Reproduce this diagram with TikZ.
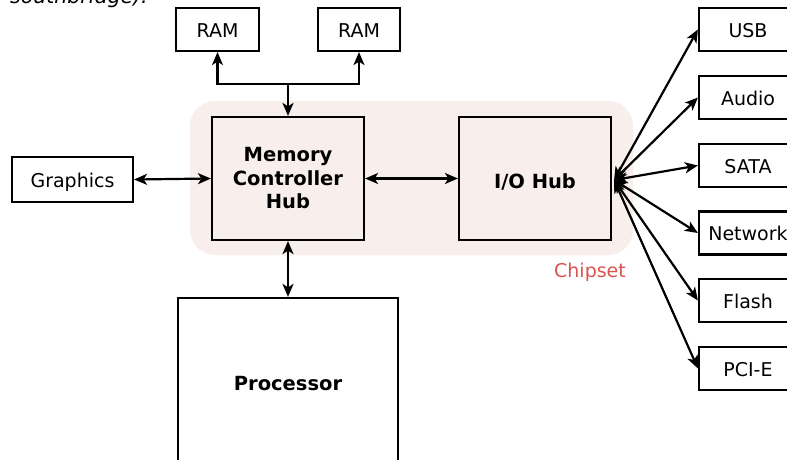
\documentclass[tikz,border=0pt]{standalone}
\usepackage{fontspec}
\setmainfont{DejaVu Sans}
\usetikzlibrary{arrows.meta}
\definecolor{chipfill}{HTML}{F8EEEC}
\definecolor{chipred}{HTML}{D9534F}
\tikzset{
  box/.style={draw=black, line width=2.2pt, rectangle, inner sep=0pt, font=\fontsize{19}{22}\selectfont},
  lbl/.style={text height=16pt, text depth=1pt},
  hubbox/.style={box, fill=chipfill, minimum width=152pt, minimum height=123pt, align=center, font=\fontsize{19.5}{23.5}\selectfont\bfseries},
  devbox/.style={box, lbl, minimum width=98pt, minimum height=43pt},
  conn/.style={line width=2.2pt, {Stealth[length=13pt,width=11pt,inset=3.5pt]}-{Stealth[length=13pt,width=11pt,inset=3.5pt]}},
  connto/.style={line width=2.2pt, -{Stealth[length=13pt,width=11pt,inset=3.5pt]}}
}
\begin{document}
\begin{tikzpicture}[x=1pt,y=-1pt]
\useasboundingbox (0,0) rectangle (787,459);
\clip (0,0) rectangle (787,459);

% cut-off caption text at top
\node[anchor=base west, inner sep=0pt, font=\fontsize{20.5}{24}\selectfont\itshape] (cap) at (10,3) {southbridge).};

% chipset background
\node[fill=chipfill, rounded corners=25pt, minimum width=443pt, minimum height=154pt, inner sep=0pt] (chipset) at (411.5,178) {};
\node[text=chipred, font=\fontsize{19}{22}\selectfont] (chiplabel) at (590,272) {Chipset};

% RAM
\node[box, lbl, minimum width=83pt, minimum height=43pt] (ram1) at (217.5,29.5) {RAM};
\node[box, lbl, minimum width=82pt, minimum height=43pt] (ram2) at (359,29.5) {RAM};

% hubs
\node[hubbox] (mch) at (288,178.5) {Memory\\Controller\\Hub};
\node[hubbox, text height=20pt, text depth=0.8pt] (ioh) at (535,178.5) {I/O Hub};

% graphics
\node[box, lbl, minimum width=121pt, minimum height=45pt] (gfx) at (72.5,179.5) {Graphics};

% processor
\node[box, minimum width=220pt, minimum height=172pt, font=\fontsize{19.5}{23.5}\selectfont\bfseries] (proc) at (288,384) {Processor};

% devices
\node[devbox] (usb) at (748,29.5) {USB};
\node[devbox] (audio) at (748,97.5) {Audio};
\node[devbox] (sata) at (748,165.5) {SATA};
\node[devbox] (net) at (748,233) {Network};
\node[devbox] (flash) at (748,300.5) {Flash};
\node[devbox] (pcie) at (748,368.5) {PCI-E};

% memory bus
\coordinate (jn) at (288,84);
\draw[conn] (ram1.south) |- (jn) -| (ram2.south);
\draw[connto] (jn) -- (mch.north);

% horizontal links
\draw[conn] (gfx.east) -- (mch.west);
\draw[conn] (mch.east) -- (ioh.west);
\draw[conn] (mch.south) -- (proc.north);

% I/O fan-out
\coordinate (hp) at ([xshift=2pt,yshift=-1.5pt]ioh.east);
\foreach \d in {usb,audio,sata,net,flash,pcie}{
  \draw[conn] (hp) -- (\d.west);
}
\end{tikzpicture}
\end{document}
